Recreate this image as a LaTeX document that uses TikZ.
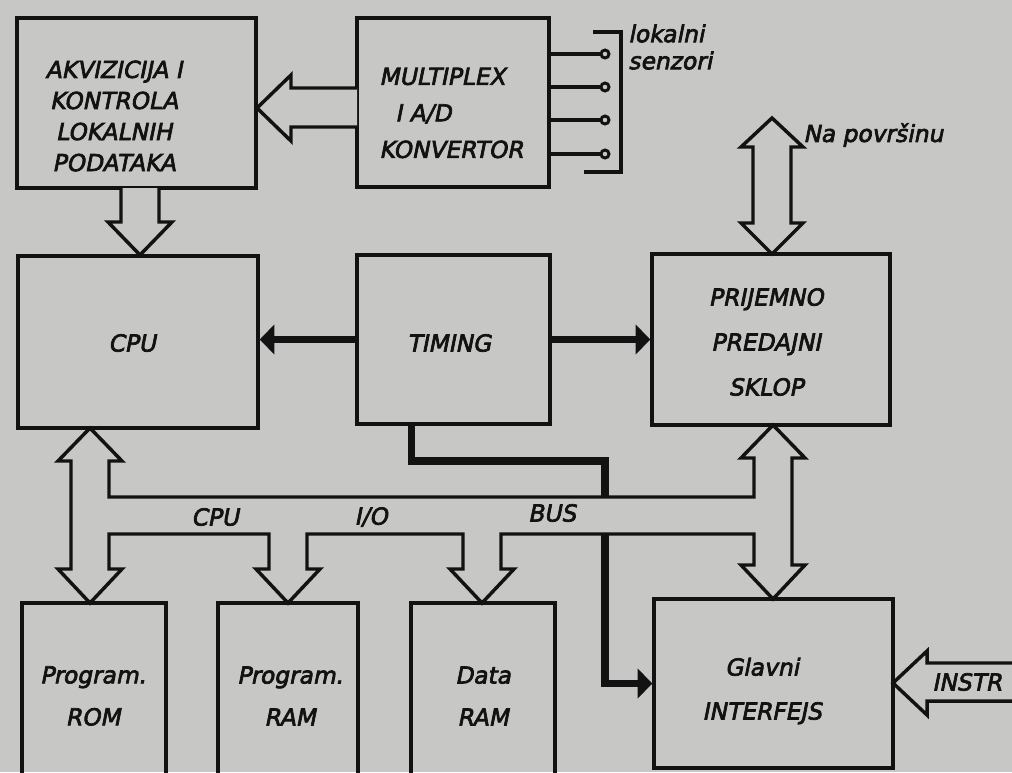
\documentclass[tikz,border=0pt]{standalone}
\usepackage{fontspec}
\setmainfont{DejaVu Sans}
\newfontfamily\lett[FakeSlant=0.2,FakeBold=3]{DejaVu Sans}
\usetikzlibrary{arrows.meta,fit}
\definecolor{bg}{RGB}{199,199,197}
\definecolor{ink}{RGB}{18,18,18}
\begin{document}
\begin{tikzpicture}[x=0.75pt,y=-0.75pt,
  box/.style={draw=ink,line width=2.6pt,inner sep=0pt},
  lbl/.style={text=ink,inner sep=0pt,font=\fontsize{17.5}{24}\selectfont\lett},
  thk/.style={draw=ink,line width=5.5pt},
  hol/.style={draw=ink,fill=bg,line width=2.6pt,line join=miter},
  thn/.style={draw=ink,line width=2.6pt},
  tri/.style={-{Triangle[length=11pt,width=22pt]}}
]
\useasboundingbox (0,0) rectangle (1012,772);
\fill[bg] (0,0) rectangle (1012,772);
\clip (0,0) rectangle (1012,772);

% boxes
\node[box,fit={(17,18)(256,188)}] (akv) {};
\node[box,fit={(357,18)(549,187)}] (mux) {};
\node[box,fit={(18,256)(258,428)}] (cpu) {};
\node[box,fit={(357,255)(550,424)}] (tim) {};
\node[box,fit={(652,254)(890,425)}] (pri) {};
\node[box,fit={(22,603)(166,800)}] (rom) {};
\node[box,fit={(218,603)(358,800)}] (pram) {};
\node[box,fit={(411,603)(555,800)}] (dram) {};
\node[box,fit={(654,599)(893,768)}] (gl) {};

% thick timing lines
\coordinate (bend) at (605,461);
\draw[thk,tri] (tim.west) -- (cpu.east |- tim.west);
\draw[thk,tri] (tim.east) -- (pri.west |- tim.east);
\draw[thk,tri] ([xshift=42pt]tim.south west) |- (bend) |- (gl.west);

% bus (hollow band with arrows)
\filldraw[hol] (90,428) -- (122,461) -- (109,461) -- (109,497)
  -- (754,497) -- (754,458) -- (741,458) -- (773,425) -- (805,458) -- (792,458)
  -- (792,565) -- (805,565) -- (773,599) -- (741,565) -- (754,565) -- (754,534)
  -- (501,534) -- (501,569) -- (514,569) -- (482,603) -- (450,569) -- (463,569) -- (463,534)
  -- (307,534) -- (307,569) -- (320,569) -- (288,603) -- (256,569) -- (269,569) -- (269,534)
  -- (109,534) -- (109,569) -- (122,569) -- (90,603) -- (58,569) -- (71,569)
  -- (71,461) -- (58,461) -- cycle;

% hollow arrows
\filldraw[hol] (357,88) -- (291,88) -- (291,75) -- (257,108) -- (291,141) -- (291,127) -- (357,127);
\filldraw[hol] (121,188) -- (121,222) -- (108,222) -- (140,255) -- (172,222) -- (159,222) -- (159,188);
\filldraw[hol] (772,118) -- (803,147) -- (791,147) -- (791,223) -- (803,223) -- (772,254)
  -- (741,223) -- (753,223) -- (753,147) -- (741,147) -- cycle;
\filldraw[hol] (1020,663) -- (927,663) -- (927,651) -- (893,683) -- (927,715) -- (927,701) -- (1020,701);

% sensors
\foreach \i/\yy in {1/54,2/87,3/120,4/154}{
  \node[circle,draw=ink,line width=2.2pt,fill=bg,minimum size=6pt,inner sep=0pt] (s\i) at (605,\yy) {};
  \draw[thn] (mux.east |- s\i) -- (s\i.west);
}
\draw[thn] (593,32) -- (621,32) -- (621,172) -- (584,172);

% texts
\node[lbl,align=center,font=\fontsize{17.5}{23.3}\selectfont\lett] (akvT) at (114,116) {AKVIZICIJA I\\KONTROLA\\LOKALNIH\\PODATAKA};
\node[lbl,align=left,anchor=west,font=\fontsize{17.5}{27.4}\selectfont\lett] (muxT) at (379,113) {MULTIPLEX\\\hspace*{12pt}I A/D\\KONVERTOR};
\node[lbl,align=left,anchor=west,font=\fontsize{17.5}{20.3}\selectfont\lett] (senT) at (628,47) {lokalni\\senzori};
\node[lbl,anchor=west] (napT) at (803,135) {Na površinu};
\node[lbl] (cpuT) at (132,343) {CPU};
\node[lbl] (timT) at (449,343) {TIMING};
\node[lbl,align=center,font=\fontsize{17.5}{33.7}\selectfont\lett] (priT) at (766,342) {PRIJEMNO\\PREDAJNI\\SKLOP};
\node[lbl] (b1) at (215,517) {CPU};
\node[lbl] (b2) at (371,517) {I/O};
\node[lbl] (b3) at (552,513) {BUS};
\node[lbl,align=center,font=\fontsize{17.5}{31.5}\selectfont\lett] (romT) at (93,696) {Program.\\ROM};
\node[lbl,align=center,font=\fontsize{17.5}{31.5}\selectfont\lett] (pramT) at (290,696) {Program.\\RAM};
\node[lbl,align=center,font=\fontsize{17.5}{31.5}\selectfont\lett] (dramT) at (483,696) {Data\\RAM};
\node[lbl,align=center,font=\fontsize{17.5}{33}\selectfont\lett] (glT) at (762,691) {Glavni\\INTERFEJS};
\node[lbl] (insT) at (967,682) {INSTR};
\end{tikzpicture}
\end{document}
